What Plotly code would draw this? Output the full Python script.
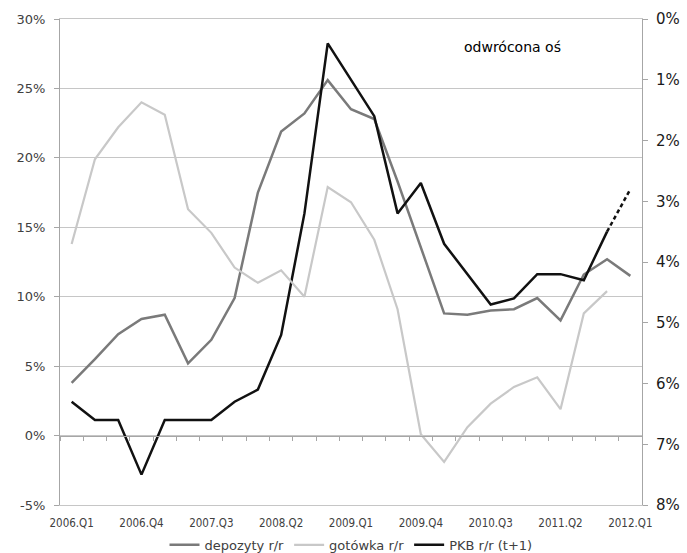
import plotly.graph_objects as go

# Quarterly categories on the horizontal axis
quarters = [
    "2006.Q1", "2006.Q2", "2006.Q3", "2006.Q4",
    "2007.Q1", "2007.Q2", "2007.Q3", "2007.Q4",
    "2008.Q1", "2008.Q2", "2008.Q3", "2008.Q4",
    "2009.Q1", "2009.Q2", "2009.Q3", "2009.Q4",
    "2010.Q1", "2010.Q2", "2010.Q3", "2010.Q4",
    "2011.Q1", "2011.Q2", "2011.Q3", "2011.Q4",
    "2012.Q1",
]
tick_labels = ["2006.Q1", "2006.Q4", "2007.Q3", "2008.Q2", "2009.Q1",
               "2009.Q4", "2010.Q3", "2011.Q2", "2012.Q1"]

# Deposits and cash, y/y growth (%), left axis
depozyty = [3.8, 5.5, 7.3, 8.4, 8.7, 5.2, 6.9, 9.9, 17.5, 21.9, 23.2, 25.6,
            23.5, 22.8, 18.3, 13.6, 8.8, 8.7, 9.0, 9.1, 9.9, 8.3, 11.6, 12.7, 11.5]
gotowka = [13.8, 19.9, 22.2, 24.0, 23.1, 16.3, 14.6, 12.1, 11.0, 11.9, 10.0, 17.9,
           16.8, 14.1, 9.1, 0.1, -1.9, 0.6, 2.3, 3.5, 4.2, 1.9, 8.8, 10.4, None]
# GDP y/y (t+1), %, right (inverted) axis; last value is the forecast
pkb = [6.3, 6.6, 6.6, 7.5, 6.6, 6.6, 6.6, 6.3, 6.1, 5.2, 3.2, 0.4,
       1.0, 1.6, 3.2, 2.7, 3.7, 4.2, 4.7, 4.6, 4.2, 4.2, 4.3, 3.5, 2.8]

left_ticks = [-5, 0, 5, 10, 15, 20, 25, 30]
right_ticks = [0, 1, 2, 3, 4, 5, 6, 7, 8]

AXIS_GREY = "#a6a6a6"
GRID_GREY = "#c6c6c6"
LABEL_GREY = "#404040"

fig = go.Figure()
fig.add_trace(go.Scatter(
    x=quarters, y=depozyty, name="depozyty r/r", mode="lines",
    line=dict(color="#7a7a7a", width=2.5),
))
fig.add_trace(go.Scatter(
    x=quarters, y=gotowka, name="gotówka r/r", mode="lines",
    line=dict(color="#c8c8c8", width=2.2), xaxis="x2",
))
fig.add_trace(go.Scatter(
    x=quarters[:-1], y=pkb[:-1], name="PKB r/r (t+1)", mode="lines",
    line=dict(color="#111111", width=2.5), yaxis="y2",
))
fig.add_trace(go.Scatter(
    x=quarters[-2:], y=pkb[-2:], name="PKB r/r (t+1)", mode="lines",
    line=dict(color="#111111", width=2.5, dash="4px,3px"), yaxis="y2",
    showlegend=False,
))

fig.add_annotation(
    text="odwrócona oś", xref="paper", yref="paper", x=0.778, y=0.942,
    xanchor="center", yanchor="middle",
    showarrow=False, font=dict(family="DejaVu Sans", size=14, color="#000000"),
)

fig.update_layout(
    width=687, height=553,
    margin=dict(l=60, r=45, t=19, b=48, autoexpand=False),
    paper_bgcolor="white", plot_bgcolor="white",
    font=dict(family="DejaVu Sans", color=LABEL_GREY),
    xaxis=dict(
        type="category", categoryorder="array", categoryarray=quarters,
        range=[-0.5, len(quarters) - 0.5],
        tickmode="array", tickvals=tick_labels, ticktext=tick_labels,
        ticks="", showgrid=False, zeroline=False,
        # frame lines at the 30% and -5% levels
        showline=True, mirror=True, linecolor=GRID_GREY, linewidth=1,
        ticklabelstandoff=7,
        tickfont=dict(family="DejaVu Sans Condensed, DejaVu Sans", size=11.5, color=LABEL_GREY),
    ),
    # category axis drawn along the 0% line with ticks between quarters
    xaxis2=dict(
        type="category", categoryorder="array", categoryarray=quarters,
        range=[-0.5, len(quarters) - 0.5],
        overlaying="x", anchor="free", position=5 / 35,
        showline=True, linecolor=AXIS_GREY, linewidth=1,
        ticks="outside", ticklen=4, tickcolor=AXIS_GREY, tickson="boundaries",
        tickmode="linear", tick0=0, dtick=1,
        showticklabels=False, showgrid=False, zeroline=False,
    ),
    yaxis=dict(
        range=[-5, 30], tickmode="array", tickvals=left_ticks,
        ticktext=[f"{v}%" for v in left_ticks],
        showgrid=True, gridcolor=GRID_GREY, gridwidth=1,
        showline=True, linecolor=AXIS_GREY, ticks="outside", ticklen=5,
        tickcolor=AXIS_GREY, zeroline=False, ticklabelstandoff=6,
        tickfont=dict(family="DejaVu Sans", size=13, color=LABEL_GREY),
    ),
    yaxis2=dict(
        range=[8, 0], overlaying="y", side="right", anchor="x",
        tickmode="array", tickvals=right_ticks,
        ticktext=[f"{v}%" for v in right_ticks],
        showgrid=False, showline=True, linecolor=AXIS_GREY,
        ticks="outside", ticklen=5, tickcolor=AXIS_GREY, zeroline=False,
        ticklabelstandoff=5,
        tickfont=dict(family="DejaVu Sans", size=15, color="#1a1a1a"),
    ),
    legend=dict(
        orientation="h", x=0.5, xanchor="center", y=-0.082, yanchor="middle",
        font=dict(family="DejaVu Sans", size=13, color=LABEL_GREY),
        itemwidth=30, bgcolor="rgba(0,0,0,0)",
    ),
)

fig.write_html("out.html")
